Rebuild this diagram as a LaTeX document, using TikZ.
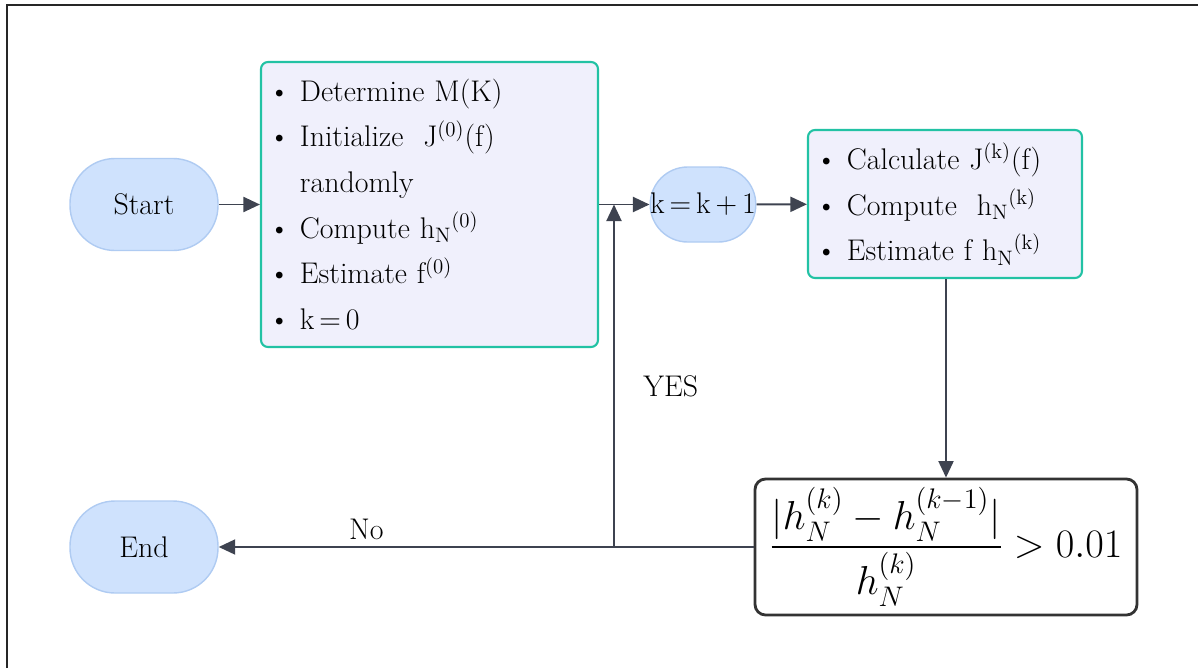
\RequirePackage{fix-cm}
\documentclass[tikz,border=0pt]{standalone}
\usepackage{amsmath}
\usepackage{amssymb}
\usetikzlibrary{arrows.meta}

\definecolor{termfill}{HTML}{CFE2FD}
\definecolor{termline}{HTML}{AFCBF2}
\definecolor{procfill}{HTML}{F0F0FC}
\definecolor{procline}{HTML}{22C2A4}
\definecolor{arrowgray}{HTML}{3E4350}

\tikzset{
    terminal/.style={draw=termline, fill=termfill, line width=0.8pt, inner sep=0pt,
        rounded corners=0.9cm, minimum width=2.96cm, minimum height=1.84cm,
        font=\fontsize{17}{20}\selectfont},
    process/.style={draw=procline, fill=procfill, line width=1.2pt, rounded corners=4pt,
        inner sep=0pt, align=left, anchor=center, font=\fontsize{17}{26}\selectfont},
    decision/.style={draw=black!80, line width=1.6pt, rounded corners=6pt},
    arr/.style={draw=arrowgray, line width=1.1pt, -{Triangle[length=3.3mm, width=3mm]}},
    lbl/.style={font=\fontsize{17}{20}\selectfont}
}

\begin{document}
\begin{tikzpicture}
    \useasboundingbox (0,0) rectangle (23.96,-13.36);
    % frame
    \draw[black!85, line width=1.2pt] (0.14,-13.36) -- (0.14,-0.1) -- (23.96,-0.1);

    % Terminals
    \node[terminal] (start) at (2.88,-4.09) {Start};
    \node[terminal] (end) at (2.88,-10.94) {End};
    \node[terminal, minimum width=2.08cm, minimum height=1.5cm, rounded corners=0.75cm] (inc) at (14.06,-4.09)
        {k\,$=$\,k\,$+$\,1};

    % Initialisation box
    \node[process, minimum width=6.74cm, minimum height=5.7cm, text width=6.44cm] (init) at (8.59,-4.09) {%
        \textbullet\,\,Determine M(K)\\
        \textbullet\,\,Initialize\ \ J\textsuperscript{(0)}(f)\\
        \phantom{\textbullet\,\,}randomly\\
        \textbullet\,\,Compute h\textsubscript{N}\textsuperscript{(0)}\\
        \textbullet\,\,Estimate f\textsuperscript{(0)}\\
        \textbullet\,\,k\,$=$\,0};

    % Iteration box
    \node[process, minimum width=5.48cm, minimum height=2.96cm, text width=5.18cm] (iter) at (18.9,-4.08) {%
        \textbullet\,\,Calculate J\textsuperscript{(k)}(f)\\
        \textbullet\,\,Compute\ \ h\textsubscript{N}\textsuperscript{(k)}\\
        \textbullet\,\,Estimate f h\textsubscript{N}\textsuperscript{(k)}};

    % Stopping test
    \node[decision, minimum width=7.64cm, minimum height=2.72cm, font=\fontsize{23}{27}\selectfont] (test) at (18.92,-10.94)
        {$\displaystyle\frac{|h_N^{(k)}-h_N^{(k-1)}|}{h_N^{(k)}}>0.01$};

    \coordinate (jn) at (12.28,-10.94);

    % Connectors
    \draw[arr] (start) -- (init);
    \draw[arr] (init) -- (inc);
    \draw[arr] (inc) -- (iter);
    \draw[arr] (iter.south -| test.north) -- (test);
    \draw[arr] (test) -- (end) node[lbl, pos=0.724, above] {No};
    \draw[arr] (jn) -- (jn |- init.east) node[lbl, pos=0.47, right=0.45cm] {YES};
\end{tikzpicture}
\end{document}
